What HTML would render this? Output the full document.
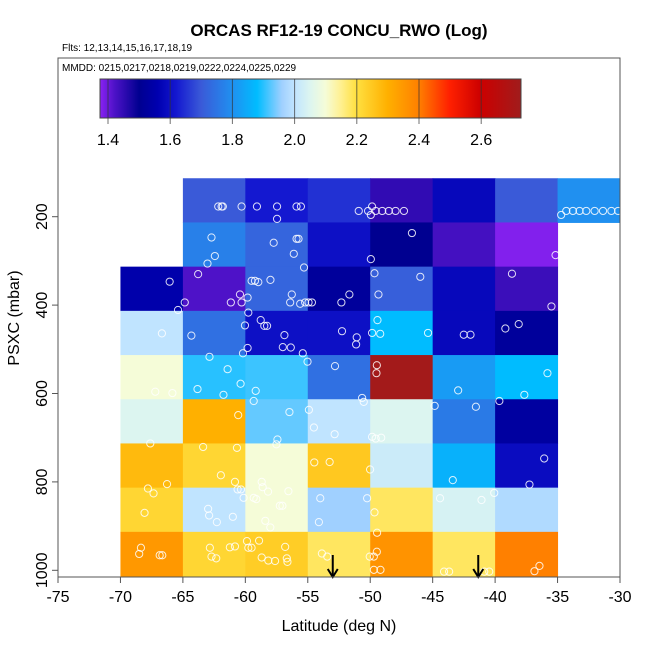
<!DOCTYPE html>
<html><head><meta charset="utf-8">
<style>
html,body{margin:0;padding:0;background:#fff}
svg{display:block;font-family:"Liberation Sans",Arial,sans-serif}
</style></head>
<body>
<svg id="chart" width="650" height="650" viewBox="0 0 650 650" xmlns="http://www.w3.org/2000/svg">
<defs><linearGradient id="cbgrad" x1="0" x2="1" y1="0" y2="0"></linearGradient></defs>
<text x="339" y="36" text-anchor="middle" font-size="17" font-weight="bold">ORCAS RF12-19 CONCU_RWO (Log)</text>
<text x="62" y="51" font-size="10">Flts: 12,13,14,15,16,17,18,19</text>
<g id="cells"></g>
<g id="pts"></g>
<g id="arrows"></g>
<rect x="58" y="58" width="562" height="519" fill="none" stroke="#555" stroke-width="1"/>
<text x="62" y="71" font-size="10">MMDD: 0215,0217,0218,0219,0222,0224,0225,0229</text>
<g id="cbar"></g>
<g id="xaxis"></g>
<g id="yaxis"></g>
<text x="339" y="631" text-anchor="middle" font-size="16">Latitude (deg N)</text>
<text x="0" y="0" transform="translate(19,318) rotate(-90)" text-anchor="middle" font-size="16">PSXC (mbar)</text>
</svg>
<script>
const xTicks=[-75,-70,-65,-60,-55,-50,-45,-40,-35,-30];
const yTicks=[200,400,600,800,1000];
const cbTicks=[1.4,1.6,1.8,2.0,2.2,2.4,2.6];
const latEdges=[-70,-65,-60,-55,-50,-45,-40,-35,-30];
const pTops=[113,213,313,413,513,613,713,813,913];
const cellValues=[
 [null,1.70,1.62,1.65,1.45,1.58,1.70,1.80],
 [null,1.77,1.72,1.60,1.50,1.43,1.38,null],
 [1.55,1.42,1.72,1.52,1.71,1.58,1.44,null],
 [2.00,1.74,1.60,1.60,1.88,1.58,1.52,null],
 [2.10,1.90,1.91,1.74,2.72,1.82,1.88,null],
 [2.05,2.30,1.93,2.00,2.05,1.76,1.53,null],
 [2.28,2.22,2.10,2.25,2.02,1.86,1.59,null],
 [2.22,2.00,2.10,1.96,2.18,2.04,1.98,null],
 [2.35,2.22,2.24,2.18,2.36,2.18,2.40,null]
];
const ptLat=[-62.17,-61.9,-61.8,-60.3,-59.07,-57.46,-57.46,-55.9,-55.55,-50.92,-50.17,-49.95,-49.85,-49.56,-49.04,-48.51,-47.97,-47.3,-34.71,-34.3,-33.77,-33.24,-32.7,-32.03,-31.36,-30.69,-30.15,
-62.71,-62.44,-63.03,-57.73,-55.9,-55.74,-56.12,-55.3,-46.66,-49.95,-35.16,
-66.06,-63.78,-64.85,-65.39,-60.43,-61.16,-60.3,-59.82,-59.5,-59.23,-58.96,-57.99,-56.28,-56.41,-55.61,-55.21,-54.94,-54.67,-51.67,-52.31,-49.66,-49.34,-45.99,-38.65,-35.49,
-66.68,-64.32,-59.76,-60.03,-58.77,-58.48,-58.26,-56.87,-57,-56.36,-55.4,-59.82,-60.19,-52.26,-51.08,-51.13,-49.42,-49.85,-49.2,-45.37,-42.51,-41.97,-39.18,-38.11,
-62.87,-61.42,-55.02,-52.82,-49.47,-49.5,-42.96,-35.81,-37.66,-39.66,-67.21,-65.84,-63.83,-61.75,-60.38,-59.17,-59.33,-50.65,-50.52,
-60.57,-56.47,-54.91,-54.51,-52.85,-57.43,-57.51,-49.85,-49.56,-49.12,-44.84,-41.54,-67.61,
-63.38,-60.67,-61.96,-60.83,-66.27,-67.8,-67.35,-54.48,-53.25,-50.01,-43.39,-36.07,-37.25,-58.69,-58.61,
-68.07,-62.98,-62.9,-62.28,-61,-60.62,-60.35,-60.14,-59.33,-59.12,-58.18,-56.55,-57.24,-57.03,-58.4,-58,-54,-54.11,-50.25,-49.66,-49.45,-44.41,-41.09,-40.07,
-68.36,-68.5,-66.86,-66.65,-62.84,-62.71,-62.33,-61.24,-60.83,-59.87,-58.9,-59.76,-59.5,-56.81,-58.69,-58.16,-57.62,-56.68,-56.63,-53.87,-53.44,-49.47,-50.04,-49.71,-49.71,-49.18,-44.09,-43.68,-40.87,-40.47,-36.45,-36.85];
const ptP=[177,177,177,177,177,177,205,177,177,187,187,196,177,187,187,187,187,187,196,187,187,187,187,187,187,187,187,
247,289,306,259,250,250,284,315,237,296,287,
347,330,394,411,376,394,394,383,345,345,348,343,376,394,397,394,394,394,376,394,328,376,336,329,403,
464,469,417,446,434,447,447,468,495,496,509,497,509,459,473,489,434,463,465,463,467,467,453,443,
517,545,528,538,536,554,593,554,603,617,596,599,590,603,578,594,617,610,619,
649,642,637,677,692,704,715,698,702,700,628,630,713,
721,723,785,800,805,815,826,756,755,772,796,747,806,800,812,
870,861,876,891,879,817,817,836,836,839,822,821,854,854,888,903,837,891,837,869,915,837,841,825,
949,963,966,966,949,969,973,948,946,934,933,949,949,947,971,978,979,973,981,962,969,958,969,969,999,999,1003,1003,1003,1003,990,1002];
const arrowLat=[-53,-41.35];
const cmapVals=[1.374,1.42,1.5,1.56,1.62,1.7,1.8,1.88,1.96,2.0,2.05,2.1,2.15,2.2,2.3,2.4,2.5,2.6,2.73];
const cmapCols=["#8a22f2","#4e12c8","#000090","#0000b0","#1418d0","#3a5ad8","#2090f0","#00bcff","#a0d0ff","#c0e4ff","#dcf5f0","#f5fcd8","#fff090","#ffe040","#ffb000","#ff8000","#ff2000","#cc0000","#a01c1c"];

const NS="http://www.w3.org/2000/svg";
const X=v=>58+(v+75)*12.4889;
const Y=p=>216.7+(p-200)*0.442;
const CB=v=>108+(v-1.4)*311;
function mk(t,a,parent){const e=document.createElementNS(NS,t);for(const k in a)e.setAttribute(k,a[k]);parent.appendChild(e);return e;}
function hex(c){return [1,3,5].map(i=>parseInt(c.substr(i,2),16));}
function cmap(v){
  if(v<=cmapVals[0])return cmapCols[0];
  for(let i=1;i<cmapVals.length;i++){if(v<=cmapVals[i]){const t=(v-cmapVals[i-1])/(cmapVals[i]-cmapVals[i-1]);const a=hex(cmapCols[i-1]),b=hex(cmapCols[i]);return "rgb("+a.map((x,j)=>Math.round(x+(b[j]-x)*t)).join(",")+")";}}
  return cmapCols[cmapCols.length-1];
}
const cells=document.getElementById('cells');
cellValues.forEach((row,r)=>row.forEach((v,c)=>{
  if(v===null)return;
  const x0=X(latEdges[c]),x1=X(latEdges[c+1]),y0=Y(pTops[r]),y1=Y(pTops[r]+100);
  const e=mk('rect',{x:x0,y:y0,width:x1-x0+0.5,height:y1-y0+0.5,fill:cmap(v)},cells);
  
  
}));
const pts=document.getElementById('pts');
ptLat.forEach((la,i)=>{
  const e=mk('circle',{cx:X(la),cy:Y(ptP[i]),r:3.6,fill:'none',stroke:'#fff','stroke-opacity':0.85,'stroke-width':1},pts);
  
  
});
const arr=document.getElementById('arrows');
arrowLat.forEach(la=>{
  const g=mk('g',{},arr);
  
  
  mk('line',{x1:X(la),x2:X(la),y1:555,y2:576,stroke:'#000','stroke-width':2},g);
  mk('path',{d:`M${X(la)-5},569 L${X(la)},577 L${X(la)+5},569`,fill:'none',stroke:'#000','stroke-width':2},g);
});
// colorbar
const grad=document.getElementById('cbgrad');
cmapVals.forEach((v,i)=>mk('stop',{offset:(v-1.374)/(2.73-1.374),'stop-color':cmapCols[i]},grad));
const cb=document.getElementById('cbar');
mk('rect',{x:100,y:79,width:421,height:39,fill:'url(#cbgrad)',stroke:'#444','stroke-width':1},cb);
cbTicks.forEach(v=>{
  mk('line',{x1:CB(v),x2:CB(v),y1:79,y2:124,stroke:'#333','stroke-opacity':0.7,'stroke-width':1},cb);
  const t=mk('text',{x:CB(v),y:145,'text-anchor':'middle','font-size':16},cb);
  t.textContent=v.toFixed(1);
  
  
});
const xa=document.getElementById('xaxis');
xTicks.forEach(v=>{
  mk('line',{x1:X(v),x2:X(v),y1:577,y2:583,stroke:'#555'},xa);
  const t=mk('text',{x:X(v),y:602,'text-anchor':'middle','font-size':16},xa);
  t.textContent=v;
  
  
});
const ya=document.getElementById('yaxis');
yTicks.forEach(v=>{
  mk('line',{x1:52,x2:58,y1:Y(v),y2:Y(v),stroke:'#555'},ya);
  const t=mk('text',{x:0,y:0,transform:`translate(47,${Y(v)}) rotate(-90)`,'text-anchor':'middle','font-size':16},ya);
  t.textContent=v;
  
  
});
</script>
</body></html>
